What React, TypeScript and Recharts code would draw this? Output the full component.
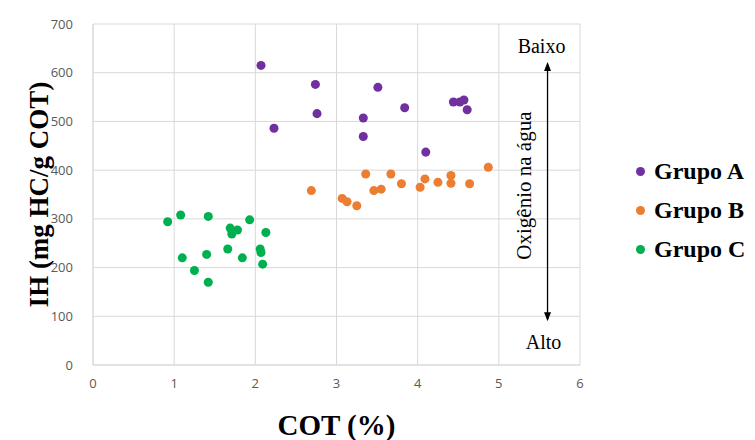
import { ScatterChart, Scatter, XAxis, YAxis, ZAxis, CartesianGrid, Legend, ReferenceLine } from "recharts";

// COT (%) vs IH (mg HC/g COT)
const grupoA = [
  { cot: 2.07, ih: 615 },
  { cot: 2.23, ih: 486 },
  { cot: 2.74, ih: 576 },
  { cot: 2.76, ih: 516 },
  { cot: 3.33, ih: 507 },
  { cot: 3.33, ih: 469 },
  { cot: 3.51, ih: 570 },
  { cot: 3.84, ih: 528 },
  { cot: 4.1, ih: 437 },
  { cot: 4.44, ih: 540 },
  { cot: 4.52, ih: 540 },
  { cot: 4.57, ih: 544 },
  { cot: 4.61, ih: 524 },
];

const grupoB = [
  { cot: 2.69, ih: 358 },
  { cot: 3.07, ih: 342 },
  { cot: 3.13, ih: 335 },
  { cot: 3.25, ih: 327 },
  { cot: 3.36, ih: 392 },
  { cot: 3.46, ih: 358 },
  { cot: 3.55, ih: 361 },
  { cot: 3.67, ih: 392 },
  { cot: 3.8, ih: 372 },
  { cot: 4.03, ih: 365 },
  { cot: 4.09, ih: 382 },
  { cot: 4.25, ih: 375 },
  { cot: 4.41, ih: 389 },
  { cot: 4.41, ih: 373 },
  { cot: 4.64, ih: 372 },
  { cot: 4.87, ih: 406 },
];

const grupoC = [
  { cot: 0.92, ih: 294 },
  { cot: 1.08, ih: 308 },
  { cot: 1.42, ih: 305 },
  { cot: 1.69, ih: 281 },
  { cot: 1.78, ih: 277 },
  { cot: 1.71, ih: 269 },
  { cot: 1.93, ih: 298 },
  { cot: 2.13, ih: 272 },
  { cot: 1.1, ih: 220 },
  { cot: 1.4, ih: 227 },
  { cot: 1.66, ih: 238 },
  { cot: 1.84, ih: 220 },
  { cot: 2.06, ih: 238 },
  { cot: 2.07, ih: 231 },
  { cot: 2.09, ih: 207 },
  { cot: 1.25, ih: 194 },
  { cot: 1.42, ih: 170 },
];

const xTicks = [0, 1, 2, 3, 4, 5, 6];
const yTicks = [0, 100, 200, 300, 400, 500, 600, 700];

// oxygen arrow: runs from "Baixo" (top) to "Alto" (bottom)
const arrowX = 5.6;
const arrowTop = 622;
const arrowBottom = 90;
const arrowTexts = { top: "Baixo", bottom: "Alto", side: "Oxigênio na água" };

const series = [
  { name: "Grupo A", data: grupoA, color: "#7030a0" },
  { name: "Grupo B", data: grupoB, color: "#ed7d31" },
  { name: "Grupo C", data: grupoC, color: "#00b050" },
];

const SERIF = '"Liberation Serif", "Times New Roman", serif';
const TICK_FONT = { fontFamily: '"Open Sans", sans-serif', fontSize: 13, fill: "#595959" };

function OxygenArrow(props: any) {
  const { x1, y1, x2, y2 } = props;
  const x = x1;
  const top = Math.min(y1, y2);
  const bottom = Math.max(y1, y2);
  const mid = (top + bottom) / 2;
  return (
    <g>
      <line x1={x} y1={top + 2} x2={x2} y2={bottom - 2} stroke="#000" strokeWidth={1.3} />
      <polygon points={`${x},${top} ${x - 3.5},${top + 9} ${x + 3.5},${top + 9}`} fill="#000" />
      <polygon points={`${x},${bottom} ${x - 3.5},${bottom - 9} ${x + 3.5},${bottom - 9}`} fill="#000" />
      <text x={x - 6} y={top - 9} textAnchor="middle" fontFamily={SERIF} fontSize={20} fill="#000">
        {arrowTexts.top}
      </text>
      <text x={x - 4} y={bottom + 28} textAnchor="middle" fontFamily={SERIF} fontSize={20} fill="#000">
        {arrowTexts.bottom}
      </text>
      <text
        x={x - 24}
        y={mid - 6}
        textAnchor="middle"
        dominantBaseline="central"
        transform={`rotate(-90 ${x - 24} ${mid - 6})`}
        fontFamily={SERIF}
        fontSize={21}
        fill="#000"
      >
        {arrowTexts.side}
      </text>
    </g>
  );
}

function GroupLegend() {
  return (
    <div style={{ fontFamily: SERIF, fontWeight: "bold", fontSize: 24, color: "#000", whiteSpace: "nowrap" }}>
      {series.map((s) => (
        <div key={s.name} style={{ display: "flex", alignItems: "center", height: 39 }}>
          <span
            style={{ display: "inline-block", width: 9, height: 9, borderRadius: "50%", background: s.color, marginRight: 9 }}
          />
          {s.name}
        </div>
      ))}
    </div>
  );
}

export default function App() {
  return (
    <div style={{ position: "absolute", left: 0, top: 0, background: "#fff" }}>
      <ScatterChart width={755} height={440} margin={{ top: 24, right: 56, bottom: 0, left: 0 }}>
        <CartesianGrid stroke="#d9d9d9" strokeWidth={1} />
        <XAxis
          type="number"
          dataKey="cot"
          domain={[0, 6]}
          ticks={xTicks}
          height={75}
          tickSize={0}
          tickMargin={14}
          tick={TICK_FONT}
          axisLine={{ stroke: "#d9d9d9" }}
          label={{ value: "COT (%)", position: "insideBottom", offset: 5, style: { fontFamily: SERIF, fontWeight: "bold", fontSize: 29, fill: "#000" } }}
        />
        <YAxis
          type="number"
          dataKey="ih"
          domain={[0, 700]}
          ticks={yTicks}
          width={93}
          tickSize={0}
          tickMargin={20}
          tick={TICK_FONT}
          axisLine={{ stroke: "#d9d9d9" }}
          label={{
            value: "IH (mg HC/g COT)",
            angle: -90,
            position: "insideLeft",
            offset: 38,
            style: { textAnchor: "middle", fontFamily: SERIF, fontWeight: "bold", fontSize: 27, fill: "#000" },
          }}
        />
        <ZAxis range={[95, 95]} />
        <ReferenceLine
          segment={[
            { x: arrowX, y: arrowTop },
            { x: arrowX, y: arrowBottom },
          ]}
          shape={OxygenArrow}
          ifOverflow="visible"
        />
        {series.map((s) => (
          <Scatter key={s.name} name={s.name} data={s.data} fill={s.color} shape="circle" isAnimationActive={false} />
        ))}
        <Legend
          layout="vertical"
          align="right"
          verticalAlign="top"
          content={GroupLegend}
          wrapperStyle={{ left: 636, top: 152, width: 119 }}
        />
      </ScatterChart>
    </div>
  );
}
